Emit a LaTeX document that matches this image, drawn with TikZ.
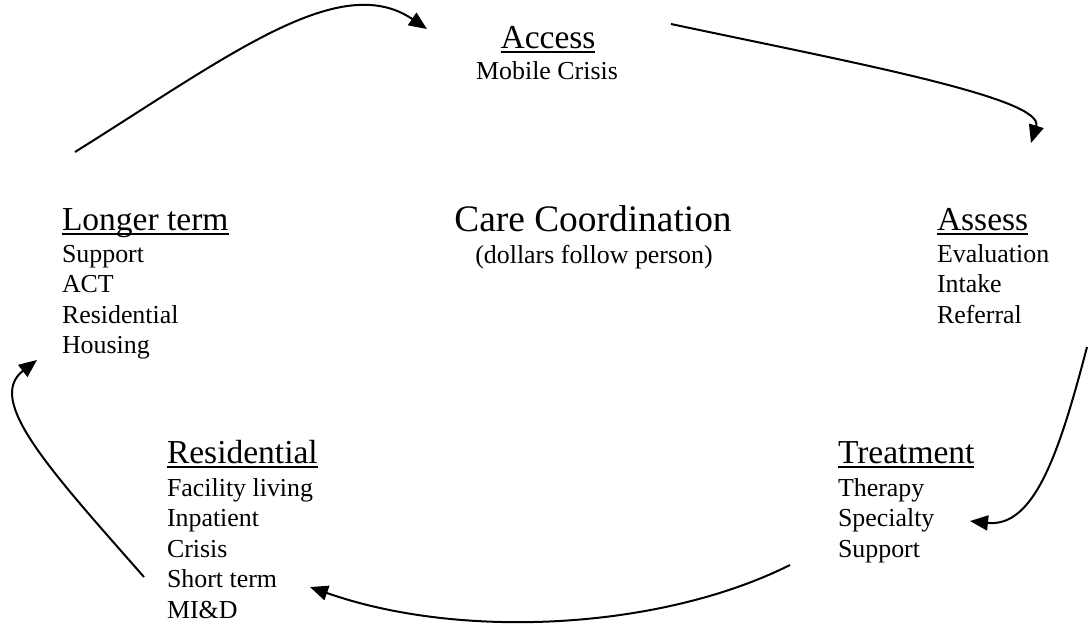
\documentclass[tikz,border=0pt]{standalone}
\usepackage{fontspec}
\setmainfont{Liberation Serif}
\usetikzlibrary{arrows.meta}
\tikzset{
  txt/.style={inner sep=0pt, outer sep=0pt, anchor=base west},
  headtxt/.style={txt, font=\fontsize{33.5}{40}\selectfont},
  itemtxt/.style={txt, font=\fontsize{25.9}{30.5}\selectfont},
  ulline/.style={line width=1.5pt},
  flow/.style={line width=2pt, -{Triangle[length=18pt,width=15pt]}}
}
\newcommand{\itemlist}[1]{\begin{tabular}[t]{@{}l@{}}#1\end{tabular}}
\begin{document}
\begin{tikzpicture}[x=1pt,y=-1pt]
\useasboundingbox (0,0) rectangle (1088,625);
% Access
\node[headtxt, anchor=base] (acc) at (548,48) {Access};
\node[itemtxt, anchor=base] (accI) at (547,79) {Mobile Crisis};
% Longer term
\node[headtxt] (lt) at (62,230) {Longer term};
\node[itemtxt] (ltI) at (62,262) {\itemlist{Support\\ ACT\\ Residential\\ Housing}};
% Care coordination
\node[txt, anchor=base, font=\fontsize{37.4}{44}\selectfont] (cc) at (593,231) {Care Coordination};
\node[itemtxt, anchor=base] (ccI) at (594,263) {(dollars follow person)};
% Assess
\node[headtxt] (as) at (937,230) {Assess};
\node[itemtxt] (asI) at (937,262) {\itemlist{Evaluation\\ Intake\\ Referral}};
% Residential
\node[headtxt] (rs) at (167,463) {Residential};
\node[itemtxt] (rsI) at (167,496) {\itemlist{Facility living\\ Inpatient\\ Crisis\\ Short term\\ MI\&D}};
% Treatment
\node[headtxt] (tr) at (838,463) {Treatment};
\node[itemtxt] (trI) at (838,496) {\itemlist{Therapy\\ Specialty\\ Support}};
% underlines
\foreach \n in {acc,lt,as,rs,tr}
  \draw[ulline] ([yshift=-4pt]\n.base west) -- ([yshift=-4pt]\n.base east);
% connector ends
\coordinate (a1s) at (75,152);   \coordinate (a1e) at (427,29);
\coordinate (a2s) at (671,24);   \coordinate (a2e) at (1031,143);
\coordinate (a3s) at (1087,347); \coordinate (a3e) at (970,521);
\coordinate (a4s) at (790,565);  \coordinate (a4e) at (310,587);
\coordinate (a5s) at (144,577);  \coordinate (a5e) at (37,360);
\draw[flow] (a1s) .. controls (230,55) and (340,-30) .. (a1e);
\draw[flow] (a2s) .. controls (850,62) and (1045,98) .. (a2e);
\draw[flow] (a3s) .. controls (1060,450) and (1035,528) .. (a3e);
\draw[flow] (a4s) .. controls (660,630) and (460,640) .. (a4e);
\draw[flow] (a5s) .. controls (50,470) and (-15,400) .. (a5e);
\end{tikzpicture}
\end{document}
